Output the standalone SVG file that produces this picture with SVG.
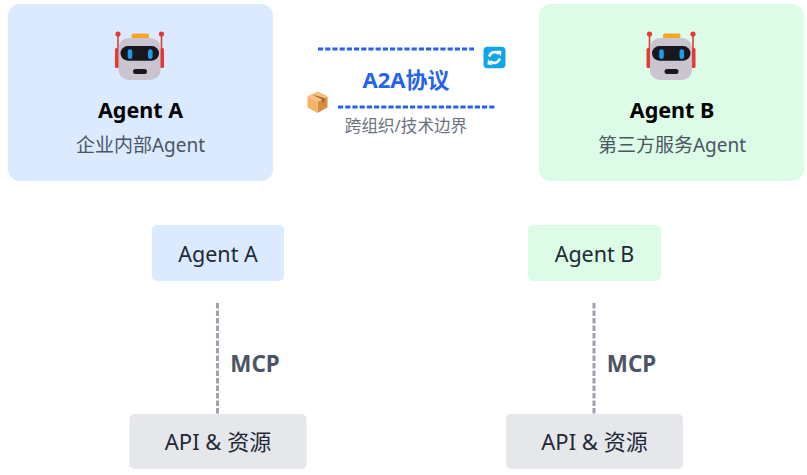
<svg xmlns="http://www.w3.org/2000/svg" width="807" height="475" viewBox="0 0 807 475">
<style>
text{font-family:"Noto Sans","Noto Sans CJK SC",sans-serif;text-anchor:middle}
.blue{fill:#dbeafe}.green{fill:#dcfce7}.gray{fill:#e5e7eb}
.title{font-size:21.500px;font-weight:700;fill:#000}
.sub{font-size:19px;fill:#4b5563}
.box{font-size:21.500px;fill:#1f2937}
.api{font-size:22px;fill:#1f2937}
.mcp{font-size:22.400px;font-weight:700;fill:#4b5563}
.a2a{stroke:#2563eb;stroke-width:3;stroke-dasharray:5.200 2;fill:none}
.mcpl{stroke:#9ca3af;stroke-width:3;stroke-dasharray:5.500 2;fill:none}
</style>
<defs>
<g id="robot">
<rect x="-8" y="-21.500" width="17.500" height="5.500" rx="2" fill="#f5a623"/>
<path d="M-21.500 -20V-3" stroke="#e53935" stroke-width="1.600"/>
<path d="M22 -20V-3" stroke="#e53935" stroke-width="1.600"/>
<circle cx="-21.500" cy="-21" r="2.600" fill="#e53935"/>
<circle cx="22" cy="-21" r="2.600" fill="#e53935"/>
<rect x="-24.500" y="-7" width="4" height="20" rx="1.500" fill="#e53935"/>
<rect x="20.500" y="-7" width="4" height="20" rx="1.500" fill="#e53935"/>
<rect x="-21" y="-17" width="42" height="42" rx="10" fill="#c9c4d0"/>
<rect x="-19" y="-9" width="38.500" height="14.700" rx="7.300" fill="#16181d"/>
<rect x="-11.800" y="-5.700" width="4.600" height="9.700" rx="2.300" fill="#1e9be8"/>
<rect x="8.500" y="-5.700" width="4.600" height="9.700" rx="2.300" fill="#1e9be8"/>
<rect x="-6.500" y="14" width="14" height="5" rx="2.500" fill="#16181d"/>
</g>
</defs>
<g id="agent-a-card">
<rect class="blue" x="8" y="4" width="265" height="177" rx="12"/>
<use href="#robot" x="139.500" y="55"/>
<text class="title" x="140.500" y="118">Agent A</text>
<text class="sub" x="140.500" y="152">企业内部Agent</text>
</g>
<g id="agent-b-card">
<rect class="green" x="539" y="4" width="265" height="177" rx="12"/>
<use href="#robot" x="671" y="55"/>
<text class="title" x="672" y="118">Agent B</text>
<text class="sub" x="672" y="152">第三方服务Agent</text>
</g>
<g id="connectors">
<path class="a2a" d="M318 49H474"/>
<path class="a2a" d="M338 107H495"/>
<path class="mcpl" d="M217.500 303V414"/>
<path class="mcpl" d="M594 303V414"/>
</g>
<g id="a2a-label">
<text x="406" y="88" font-size="22" font-weight="700" fill="#2563eb">A2A协议</text>
<text x="406" y="132" font-size="16.600" fill="#6b7280">跨组织/技术边界</text>
<rect x="483.500" y="46.800" width="22" height="21.500" rx="4" fill="#0ea5e9"/>
<g fill="none" stroke="#fff" stroke-width="2.600">
<path d="M489.300 56.500a5.500 5.500 0 0 1 9.500-2.500"/>
<path d="M499.700 58.500a5.500 5.500 0 0 1 -9.500 2.500"/>
</g>
<path d="M496.500 50.500l5 .5-.5 5.500zM492.500 65l-5-.5 .5-5.500z" fill="#fff"/>
<path d="M317.500 91.500l9 4.500q1 .5 1 1.500v9q0 1-1 1.500l-9 5z" fill="#d98b3f"/>
<path d="M317.500 91.500l-9 4.500q-1 .5-1 1.500v9q0 1 1 1.500l9 5z" fill="#f2b468"/>
<path d="M307.500 97l10 5 10-5-10-5.500z" fill="#f6c283"/>
<path d="M312 94.500l10 5v3.500l2.500-1.500v-3.500" fill="#a5692c"/>
</g>
<g id="agent-a">
<rect class="blue" x="152" y="225" width="132" height="56" rx="5"/>
<text class="box" x="218" y="262">Agent A</text>
</g>
<g id="agent-b">
<rect class="green" x="528" y="225" width="133" height="56" rx="5"/>
<text class="box" x="594.500" y="262">Agent B</text>
</g>
<g id="mcp-labels">
<text class="mcp" x="255" y="372">MCP</text>
<text class="mcp" x="631.500" y="372">MCP</text>
</g>
<g id="api-a">
<rect class="gray" x="129.500" y="414" width="177" height="55" rx="5"/>
<text class="api" x="218" y="450">API &amp; 资源</text>
</g>
<g id="api-b">
<rect class="gray" x="506" y="414" width="177" height="55" rx="5"/>
<text class="api" x="594.500" y="450">API &amp; 资源</text>
</g>
</svg>
